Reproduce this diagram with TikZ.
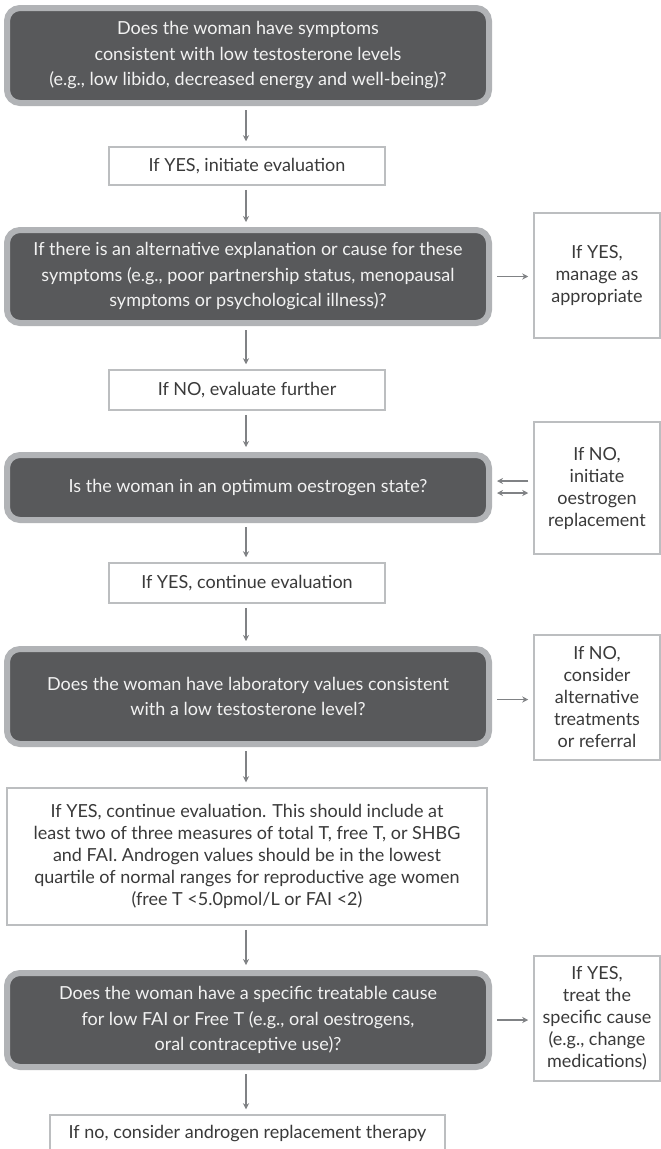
\documentclass[tikz,border=0pt]{standalone}
\usepackage{fontspec}
\setmainfont{Lato}
\usetikzlibrary{arrows.meta}
\definecolor{darkbox}{HTML}{58595B}
\definecolor{rimgray}{HTML}{B1B3B6}
\definecolor{wbord}{HTML}{BCBEC0}
\definecolor{arrgray}{HTML}{808285}
\definecolor{txtdark}{HTML}{3A3A3A}
\definecolor{txtlight}{HTML}{F2F2F2}
\begin{document}
\begin{tikzpicture}[x=1pt,y=-1pt,
  qbox/.style={draw=rimgray, line width=6pt, fill=darkbox, rounded corners=13pt,
    text=txtlight, align=center, inner sep=0pt, minimum width=482pt,
    font=\fontsize{18}{25.5}\selectfont},
  wbox/.style={draw=wbord, line width=1.5pt, fill=white, text=txtdark,
    align=center, inner sep=0pt, font=\fontsize{18}{22}\selectfont},
  rbox/.style={wbox, minimum width=126pt, minimum height=125pt},
  arr/.style={draw=arrgray, line width=1.2pt, -{Stealth[length=6pt,width=6pt]}},
  varr/.style={arr, shorten <=4pt, shorten >=5pt},
  harr/.style={arr, shorten <=5pt, shorten >=5pt},
]
\clip (0,0) rectangle (661,1149);
\fill[white] (0,0) rectangle (661,1149);

\node[qbox, minimum height=95pt] (q1) at (248,55.5)
  {Does the woman have symptoms\\consistent with low testosterone levels\\(e.g., low libido, decreased energy and well-being)?};
\node[wbox, minimum width=276pt, minimum height=38pt] (w1) at (247,166) {If YES, initiate evaluation};
\node[qbox, minimum height=93pt] (q2) at (248,276.5)
  {If there is an alternative explanation or cause for these\\symptoms (e.g., poor partnership status, menopausal\\symptoms or psychological illness)?};
\node[rbox] (r1) at (597,275.5) {If YES,\\manage as\\appropriate};
\node[wbox, minimum width=276pt, minimum height=40pt] (w2) at (247,390) {If NO, evaluate further};
\node[qbox, minimum height=65pt] (q3) at (248,487.5) {Is the woman in an optimum oestrogen state?};
\node[rbox, minimum height=132pt] (r2) at (597,488) {If NO,\\initiate\\oestrogen\\replacement};
\node[wbox, minimum width=276pt, minimum height=40pt] (w3) at (247,583) {If YES, continue evaluation};
\node[qbox, minimum height=95pt] (q4) at (248,696.5)
  {\raisebox{-4pt}{\parbox{470pt}{\centering Does the woman have laboratory values consistent\\with a low testosterone level?}}};
\node[rbox] (r3) at (597,697.5) {If NO,\\consider\\alternative\\treatments\\or referral};
\node[wbox, minimum width=480pt, minimum height=137pt] (w4) at (247,856.5)
  {If YES, continue evaluation. This should include at\\least two of three measures of total T, free T, or SHBG\\and FAI. Androgen values should be in the lowest\\quartile of normal ranges for reproductive age women\\(free T <5.0pmol/L or FAI <2)};
\node[qbox, minimum height=94pt] (q5) at (248,1020)
  {Does the woman have a specific treatable cause\\for low FAI or Free T (e.g., oral oestrogens,\\oral contraceptive use)?};
\node[rbox] (r4) at (597,1018.5) {If YES,\\treat the\\specific cause\\(e.g., change\\medications)};
\node[wbox, minimum width=395pt, minimum height=36pt] (w5) at (247.5,1133) {If no, consider androgen replacement therapy};

\coordinate (axis) at (246,0);
\draw[varr] (q1.south -| axis) -- (w1.north -| axis);
\draw[varr] (w1.south -| axis) -- (q2.north -| axis);
\draw[varr] (q2.south -| axis) -- (w2.north -| axis);
\draw[varr] (w2.south -| axis) -- (q3.north -| axis);
\draw[varr] (q3.south -| axis) -- (w3.north -| axis);
\draw[varr] (w3.south -| axis) -- (q4.north -| axis);
\draw[varr] (q4.south -| axis) -- (w4.north -| axis);
\draw[varr] (w4.south -| axis) -- (q5.north -| axis);
\draw[varr] (q5.south -| axis) -- (w5.north -| axis);

\draw[harr] (q2.east) -- (q2.east -| r1.west);
\draw[harr] ([yshift=-3pt]q4.east) -- ([yshift=-3pt]q4.east -| r3.west);
\draw[harr] (q5.east) -- (q5.east -| r4.west);
\draw[harr] ([yshift=6.5pt]q3.east -| r2.west) -- ([yshift=6.5pt]q3.east);
\draw[harr, {Stealth[length=6pt,width=6pt]}-{Stealth[length=6pt,width=6pt]}] ([yshift=-5.5pt]q3.east) -- ([yshift=-5.5pt]q3.east -| r2.west);
\end{tikzpicture}
\end{document}
